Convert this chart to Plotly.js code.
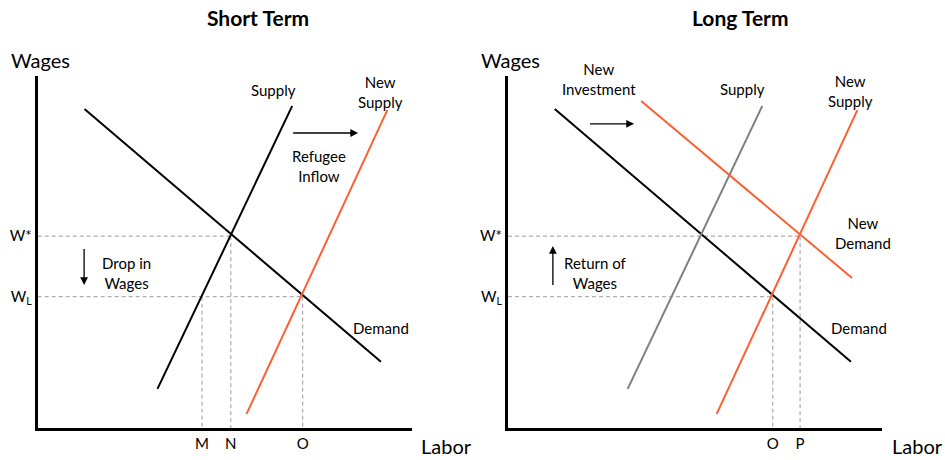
<!DOCTYPE html>
<html>
<head>
<meta charset="utf-8">
<script src="https://cdn.plot.ly/plotly-3.0.1.min.js"></script>
<style>
  html, body { margin: 0; padding: 0; background: #fff; }
  #chart { width: 945px; height: 460px; }
</style>
</head>
<body>
<div id="chart"></div>
<script>
// labour market curves, quantity (0-100) vs wage (0-100)
const demandQ = [12.5, 91.7];
const demandW = [90.6, 18.8];
const supplyQ = [32.0, 68.0];
const supplyW = [11.1, 91.5];
const newSupplyQ = [55.8, 93.4];
const newSupplyW = [4.0, 90.3];
const newDemandQ = [35.6, 92.0];
const newDemandW = [92.9, 42.6];

// equilibrium levels
const wStar = 54.5;
const wLow = 37.3;
const qM = 43.9;
const qN = 51.6;
const qO = 70.8;
const qP = 78.1;

const ORANGE = '#FA6132';
const GREY_LINE = '#7F7F7F';
const DASH = '#9A9A9A';
const FONT = 'Lato, "Open Sans", sans-serif';

function line(q, w, color, xa, ya) {
    return {
        x: q, y: w, xaxis: xa, yaxis: ya,
        type: 'scatter', mode: 'lines',
        line: { color: color, width: 2 },
        hoverinfo: 'skip', showlegend: false
    };
}

// dashed guide lines from the named levels
const guideLeft = {
    x: [0, qN, null, qN, qN, null, 0, qO, null, qM, qM, null, qO, qO],
    y: [wStar, wStar, null, wStar, 0, null, wLow, wLow, null, wLow, 0, null, wLow, 0],
    xaxis: 'x', yaxis: 'y', type: 'scatter', mode: 'lines',
    line: { color: DASH, width: 1, dash: '4px,3px' },
    hoverinfo: 'skip', showlegend: false
};
const guideRight = {
    x: [0, qP, null, qP, qP, null, 0, qO, null, qO, qO],
    y: [wStar, wStar, null, wStar, 0, null, wLow, wLow, null, wLow, 0],
    xaxis: 'x2', yaxis: 'y2', type: 'scatter', mode: 'lines',
    line: { color: DASH, width: 1, dash: '4px,3px' },
    hoverinfo: 'skip', showlegend: false
};

const data = [
    guideLeft,
    guideRight,
    line(demandQ, demandW, '#000', 'x', 'y'),
    line(supplyQ, supplyW, '#000', 'x', 'y'),
    line(newSupplyQ, newSupplyW, ORANGE, 'x', 'y'),
    line(demandQ, demandW, '#000', 'x2', 'y2'),
    line(supplyQ, supplyW, GREY_LINE, 'x2', 'y2'),
    line(newSupplyQ, newSupplyW, ORANGE, 'x2', 'y2'),
    line(newDemandQ, newDemandW, ORANGE, 'x2', 'y2')
];

const xBase = {
    range: [0, 100], showgrid: false, zeroline: false,
    showline: true, linecolor: '#000', linewidth: 3,
    ticks: '', tickmode: 'array',
    tickfont: { family: FONT, size: 15, color: '#000' },
    fixedrange: true
};
const yBase = {
    range: [0, 100], showgrid: false, zeroline: false,
    showline: true, linecolor: '#000', linewidth: 3,
    ticks: '', tickmode: 'array',
    tickvals: [wLow, wStar], ticktext: ['W<sub>L</sub>', 'W*'],
    tickfont: { family: FONT, size: 15, color: '#000' },
    fixedrange: true
};

function txt(x, y, text, xref, yref, size, bold) {
    return {
        x: x, y: y, xref: xref, yref: yref, text: text, showarrow: false,
        font: { family: FONT, size: size || 15, color: '#000', weight: bold ? 'bold' : 'normal' },
        align: 'center'
    };
}
function arrow(x0, y0, x1, y1, xa, ya) {
    return {
        x: x1, y: y1, ax: x0, ay: y0, xref: xa, yref: ya, axref: xa, ayref: ya,
        text: ' ', showarrow: true, arrowhead: 2, arrowsize: 1.2, arrowwidth: 1.3, arrowcolor: '#000',
        font: { size: 2 }
    };
}

const annotations = [
    txt(258, 17, 'Short Term', 'paper', 'paper', 21, true),
    txt(740, 17, 'Long Term', 'paper', 'paper', 21, true),
    // left panel
    txt(40, 60, 'Wages', 'paper', 'paper', 20),
    txt(446, 446, 'Labor', 'paper', 'paper', 20),
    txt(62.9, 96.0, 'Supply', 'x', 'y'),
    txt(91.7, 95.5, 'New<br>Supply', 'x', 'y'),
    txt(75.2, 74.4, 'Refugee<br>Inflow', 'x', 'y'),
    txt(23.6, 44, 'Drop in<br>Wages', 'x', 'y'),
    txt(91.7, 28.4, 'Demand', 'x', 'y'),
    arrow(67.7, 83.8, 85.6, 83.8, 'x', 'y'),
    arrow(12.4, 51.7, 12.4, 40.6, 'x', 'y'),
    // right panel
    txt(510, 60, 'Wages', 'paper', 'paper', 20),
    txt(917, 446, 'Labor', 'paper', 'paper', 20),
    txt(24.3, 99.1, 'New<br>Investment', 'x2', 'y2'),
    txt(62.8, 96.3, 'Supply', 'x2', 'y2'),
    txt(91.7, 95.7, 'New<br>Supply', 'x2', 'y2'),
    txt(94.9, 55.4, 'New<br>Demand', 'x2', 'y2'),
    txt(93.9, 28.4, 'Demand', 'x2', 'y2'),
    txt(23.5, 44, 'Return of<br>Wages', 'x2', 'y2'),
    arrow(21.4, 86.4, 33.7, 86.4, 'x2', 'y2'),
    arrow(12.0, 39.8, 12.0, 51.7, 'x2', 'y2')
];

// paper annotations are given in pixels above; convert to fractions
annotations.forEach(a => {
    if (a.xref === 'paper') {
        a.x = a.x / 945;
        a.y = 1 - a.y / 460;
        a.xanchor = 'center';
        a.yanchor = 'middle';
    }
});

const layout = {
    width: 945, height: 460,
    margin: { t: 0, r: 0, b: 0, l: 0 },
    paper_bgcolor: '#fff', plot_bgcolor: '#fff',
    showlegend: false,
    xaxis: Object.assign({}, xBase, {
        domain: [37.7 / 945, 412 / 945], anchor: 'y',
        tickvals: [qM, qN, qO], ticktext: ['M', 'N', 'O']
    }),
    yaxis: Object.assign({}, yBase, { domain: [1 - 428 / 460, 1 - 76 / 460], anchor: 'x' }),
    xaxis2: Object.assign({}, xBase, {
        domain: [508 / 945, 882 / 945], anchor: 'y2',
        tickvals: [qO, qP], ticktext: ['O', 'P']
    }),
    yaxis2: Object.assign({}, yBase, { domain: [1 - 428 / 460, 1 - 76 / 460], anchor: 'x2' }),
    annotations: annotations
};

Plotly.newPlot('chart', data, layout, { displayModeBar: false, staticPlot: true });
</script>
</body>
</html>
